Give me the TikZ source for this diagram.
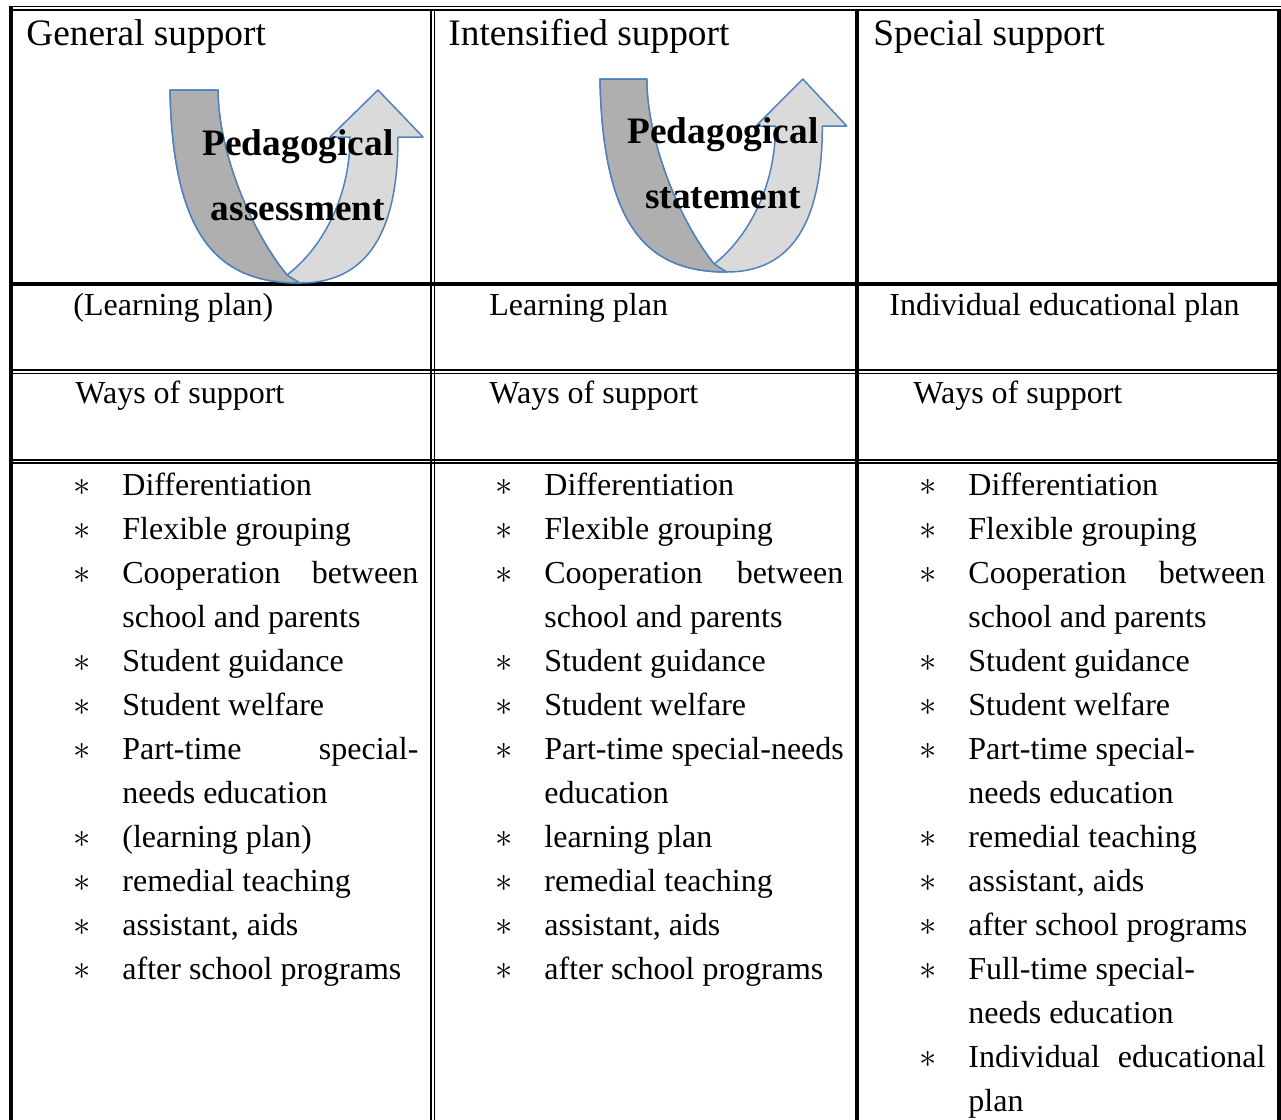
\documentclass[tikz,border=0pt]{standalone}
\usepackage{amssymb,amsmath}
\usepackage{fontspec}
\setmainfont{Liberation Serif}
\usepackage{tikz}
\usetikzlibrary{arrows,backgrounds}

\definecolor{ushape}{RGB}{79,129,189}
\definecolor{udark}{RGB}{175,175,175}
\definecolor{ulight}{RGB}{218,218,218}
\newcommand{\bodyfont}{\fontsize{16}{19}\selectfont}
\newcommand{\headfont}{\fontsize{18.67}{22}\selectfont}

\tikzset{
  rulethin/.style={line width=0.9pt},
  rulethick/.style={line width=2pt},
  head/.style={anchor=base west, inner sep=0pt, font=\headfont},
  item/.style={anchor=base west, inner sep=0pt, font=\bodyfont},
  bul/.style={anchor=base, inner sep=0pt, font=\bodyfont},
  arrowtext/.style={anchor=base, inner sep=0pt, font=\headfont\bfseries},
  uturn/.pic={
    \filldraw[ushape, line width=0.75pt, fill=ulight, line join=round]
      (0,0) .. controls (3,150) and (50,193) .. (130,193)
      .. controls (205,193) and (228,130) .. (228,47)
      -- (253,47) -- (208,0) -- (160,47) -- (180,47)
      .. controls (180,110) and (150,160) .. (117,185)
      .. controls (80,140) and (48,60) .. (48,0) -- cycle;
    \filldraw[ushape, line width=0.75pt, fill=udark, line join=round]
      (0,0) .. controls (3,150) and (50,193) .. (130,193)
      -- (117,185)
      .. controls (80,140) and (48,60) .. (48,0) -- cycle;
  }
}

\begin{document}
\begin{tikzpicture}[x=0.5pt, y=-0.5pt]
      \useasboundingbox (0,0) rectangle (1281,1120);
      % table rules
      \draw[line width=0.65pt] (9,6.7) -- (1281,6.7);
      \draw[line width=1.15pt] (9,10.2) -- (1278,10.2);
      \draw[line width=1.85pt] (10.8,6) -- (10.8,1120);
      \draw[line width=2.2pt] (1278.7,9) -- (1278.7,1120);
      \draw[rulethin] (431.2,10) -- (431.2,1120);
      \draw[rulethin] (434.4,10) -- (434.4,1120);
      \draw[rulethick] (857,10) -- (857,1120);
      \draw[rulethick] (10,284) -- (1278,284);
      \draw[rulethin] (10,370.2) -- (1278,370.2);
      \draw[rulethin] (10,373.5) -- (1278,373.5);
      \draw[rulethin] (10,459.8) -- (1278,459.8);
      \draw[rulethin] (10,463.2) -- (1278,463.2);

      % u-turn arrows
      \pic at (170,90) {uturn};
      \pic[xscale=0.975] at (600,79) {uturn};
      \node[arrowtext] (a1) at (298,155) {Pedagogical};
      \node[arrowtext] (a2) at (298,220) {assessment};
      \node[arrowtext] (a3) at (723,143) {Pedagogical};
      \node[arrowtext] (a4) at (723,208) {statement};

      % headings
      \node[head] (h1) at (26,45) {General support};
      \node[head] (h2) at (448,45) {Intensified support};
      \node[head] (h3) at (873,45) {Special support};
      \node[item] (p1) at (73,315) {(Learning plan)};
      \node[item] (p2) at (489,315) {Learning plan};
      \node[item] (p3) at (889,315) {Individual educational plan};
      \node[item] (w1) at (75,403) {Ways of support};
      \node[item] (w2) at (489,403) {Ways of support};
      \node[item] (w3) at (913,403) {Ways of support};

      % lists of support
      \foreach \b/\t [count=\i] in {1/Differentiation, 1/Flexible grouping,
          2/Cooperation between, 0/school and parents, 1/Student guidance,
          1/Student welfare, 2/Part-time special-, 0/needs education,
          1/(learning plan), 1/remedial teaching, 1/{assistant, aids},
          1/after school programs}{
        \pgfmathsetmacro\yy{495+44*(\i-1)}
        \ifnum\b>0 \node[bul] (s1-\i) at (82,\yy) {$\ast$};\fi
        \ifnum\b=2 \node[item] (t1-\i) at (122,\yy) {\makebox[148pt][s]{\t}};
        \else \node[item] (t1-\i) at (122,\yy) {\t};\fi
      }
      \foreach \b/\t [count=\i] in {1/Differentiation, 1/Flexible grouping,
          2/Cooperation between, 0/school and parents, 1/Student guidance,
          1/Student welfare, 1/Part-time special-needs, 0/education,
          1/learning plan, 1/remedial teaching, 1/{assistant, aids},
          1/after school programs}{
        \pgfmathsetmacro\yy{495+44*(\i-1)}
        \ifnum\b>0 \node[bul] (s2-\i) at (504,\yy) {$\ast$};\fi
        \ifnum\b=2 \node[item] (t2-\i) at (544,\yy) {\makebox[149.5pt][s]{\t}};
        \else \node[item] (t2-\i) at (544,\yy) {\t};\fi
      }
      \foreach \b/\t [count=\i] in {1/Differentiation, 1/Flexible grouping,
          2/Cooperation between, 0/school and parents, 1/Student guidance,
          1/Student welfare, 1/Part-time special-, 0/needs education,
          1/remedial teaching, 1/{assistant, aids}, 1/after school programs,
          1/Full-time special-, 0/needs education,
          2/Individual educational, 0/plan}{
        \pgfmathsetmacro\yy{495+44*(\i-1)}
        \ifnum\b>0 \node[bul] (s3-\i) at (928,\yy) {$\ast$};\fi
        \ifnum\b=2 \node[item] (t3-\i) at (968,\yy) {\makebox[148.5pt][s]{\t}};
        \else \node[item] (t3-\i) at (968,\yy) {\t};\fi
      }
   \end{tikzpicture}
\end{document}
